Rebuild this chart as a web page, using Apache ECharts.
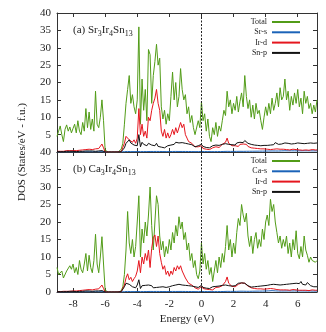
<!DOCTYPE html>
<html><head><meta charset="utf-8">
<script src="https://cdn.jsdelivr.net/npm/echarts@6/dist/echarts.min.js"></script>
<style>html,body{margin:0;padding:0;background:#fff}#c{width:326px;height:332px}</style>
</head><body><div id="c"></div>
<script>
const energy = [
-9.0,-8.9,-8.8,-8.7,-8.6,-8.5,-8.4,-8.3,-8.2,-8.1,
-8.0,-7.9,-7.8,-7.7,-7.6,-7.5,-7.4,-7.3,-7.2,-7.1,
-7.0,-6.9,-6.8,-6.7,-6.6,-6.5,-6.4,-6.3,-6.2,-6.1,
-6.0,-5.9,-5.8,-5.7,-5.6,-5.5,-5.4,-5.3,-5.2,-5.1,
-5.0,-4.9,-4.8,-4.7,-4.6,-4.5,-4.4,-4.3,-4.2,-4.1,
-4.0,-3.9,-3.8,-3.7,-3.6,-3.5,-3.4,-3.3,-3.2,-3.1,
-3.0,-2.9,-2.8,-2.7,-2.6,-2.5,-2.4,-2.3,-2.2,-2.1,
-2.0,-1.9,-1.8,-1.7,-1.6,-1.5,-1.4,-1.3,-1.2,-1.1,
-1.0,-0.9,-0.8,-0.7,-0.6,-0.5,-0.4,-0.3,-0.2,-0.1,
0.0,0.1,0.2,0.3,0.4,0.5,0.6,0.7,0.8,0.9,
1.0,1.1,1.2,1.3,1.4,1.5,1.6,1.7,1.8,1.9,
2.0,2.1,2.2,2.3,2.4,2.5,2.6,2.7,2.8,2.9,
3.0,3.1,3.2,3.3,3.4,3.5,3.6,3.7,3.8,3.9,
4.0,4.1,4.2,4.3,4.4,4.5,4.6,4.7,4.8,4.9,
5.0,5.1,5.2,5.3,5.4,5.5,5.6,5.7,5.8,5.9,
6.0,6.1,6.2,6.3,6.4,6.5,6.6,6.7,6.8,6.9,
7.0,7.1,7.2];

const xTicks = [-8,-6,-4,-2,0,2,4,6];

// ---------- (a) Sr3Ir4Sn13 ----------
const srTotal = [
4.5,6.0,7.5,5.0,3.0,6.5,7.8,6.0,7.2,5.5,
6.8,8.0,5.5,9.0,6.0,5.0,8.5,6.0,12.5,7.0,
11.5,6.5,9.5,6.0,17.5,8.0,7.0,10.0,15.0,9.0,
0.5,0,0,0,0,0,0,0,0,0.1,
0.8,2.5,8.0,14.0,18.0,22.0,14.0,16.5,13.0,11.0,
15.0,36.0,8.0,21.0,12.0,18.0,9.0,29.5,28.0,14.0,
22.0,26.0,31.0,25.0,27.0,13.0,9.5,12.0,8.0,11.0,
9.0,16.0,23.0,15.0,20.0,13.0,16.0,24.0,18.0,15.0,
16.5,11.0,13.0,8.5,10.5,7.0,5.0,4.5,9.0,7.0,
14.5,9.0,11.0,6.0,9.5,4.5,3.0,7.0,5.0,8.5,
4.5,7.5,6.0,9.0,12.0,10.5,17.5,13.0,15.0,11.0,
14.0,12.0,16.0,11.5,14.5,17.0,13.0,22.0,16.0,12.5,
15.0,10.0,13.5,9.5,14.0,11.0,12.0,9.0,6.5,10.0,
13.0,10.5,14.0,11.0,15.5,12.0,14.0,17.0,13.0,18.5,
15.0,16.0,21.0,15.0,17.5,12.0,16.0,13.5,17.0,14.0,
18.0,13.0,15.5,11.0,17.5,14.0,16.0,12.5,14.0,11.0,
13.5,11.5,15.0];

const srS = [
0.05,0.08,0.05,0.07,0.05,0.08,0.06,0.07,0.05,0.08,
0.06,0.08,0.06,0.09,0.07,0.08,0.06,0.09,0.07,0.08,
0.07,0.09,0.07,0.10,0.08,0.09,0.07,0.10,0.12,0.08,
0,0,0,0,0,0,0,0,0,0,
0.02,0.05,0.10,0.12,0.15,0.14,0.12,0.15,0.12,0.14,
0.13,0.18,0.12,0.15,0.13,0.16,0.12,0.17,0.15,0.13,
0.15,0.14,0.16,0.13,0.15,0.12,0.13,0.11,0.12,0.13,
0.12,0.14,0.15,0.13,0.16,0.14,0.15,0.17,0.15,0.14,
0.15,0.13,0.14,0.12,0.13,0.12,0.11,0.10,0.12,0.11,
0.14,0.12,0.13,0.11,0.12,0.10,0.11,0.12,0.11,0.13,
0.12,0.14,0.13,0.15,0.16,0.15,0.18,0.16,0.17,0.15,
0.17,0.16,0.18,0.17,0.19,0.20,0.18,0.22,0.20,0.19,
0.21,0.19,0.22,0.20,0.23,0.21,0.24,0.22,0.25,0.23,
0.26,0.24,0.28,0.26,0.30,0.27,0.29,0.31,0.28,0.30,
0.32,0.30,0.35,0.31,0.33,0.30,0.34,0.31,0.33,0.30,
0.34,0.31,0.33,0.30,0.35,0.32,0.34,0.31,0.33,0.30,
0.32,0.31,0.33];

const srIrD = [
0.2,0.3,0.2,0.3,0.2,0.3,0.4,0.3,0.4,0.3,
0.4,0.5,0.4,0.6,0.5,0.7,0.6,0.8,0.7,0.9,
0.8,1.0,0.7,1.1,0.9,1.3,1.0,1.5,2.3,1.2,
0,0,0,0,0,0,0,0,0,0,
0.1,0.5,2.5,4.5,5.0,3.5,4.0,2.8,3.5,2.5,
4.0,12.5,5.0,8.0,4.5,6.0,4.0,10.0,9.0,12.0,
14.0,15.5,18.0,14.0,12.0,6.0,4.5,6.5,4.0,5.5,
4.0,5.0,6.5,5.0,7.0,5.5,6.0,8.5,7.0,8.0,
5.0,4.0,3.0,3.5,2.5,2.0,1.5,1.0,1.5,1.2,
1.8,1.0,1.5,0.8,1.2,0.7,0.8,1.2,1.0,1.5,
1.0,1.3,1.6,2.2,2.0,2.8,4.0,2.5,2.0,1.8,
2.2,1.8,2.0,1.6,2.2,2.5,2.3,2.8,2.2,1.6,
1.8,1.2,1.4,1.1,1.3,1.0,1.1,0.9,0.7,0.9,
1.0,0.8,0.9,0.7,1.0,0.8,0.7,0.9,0.6,0.8,
0.7,0.8,1.0,0.7,0.8,0.6,0.7,0.8,0.6,0.7,
0.8,0.6,0.7,0.5,0.7,0.6,0.7,0.5,0.6,0.7,
0.5,0.6,0.6];

const srSnP = [
0.1,0.2,0.1,0.2,0.1,0.2,0.2,0.1,0.2,0.2,
0.2,0.2,0.1,0.2,0.2,0.3,0.2,0.2,0.3,0.2,
0.3,0.2,0.3,0.3,0.2,0.3,0.3,0.3,0.4,0.3,
0,0,0,0,0,0,0,0,0,0,
0.1,0.3,1.2,2.5,3.0,3.5,2.6,3.0,2.0,2.5,
1.8,5.0,1.5,2.8,2.2,2.6,1.8,2.5,3.0,2.0,
2.4,1.8,2.5,1.6,2.0,1.4,1.6,1.2,1.4,1.8,
1.5,2.0,2.5,2.2,2.8,2.4,2.6,2.2,2.7,2.3,
2.5,2.0,2.3,1.8,2.1,1.7,1.5,1.3,1.8,1.5,
2.2,1.6,1.9,1.3,1.7,1.2,1.4,1.8,1.5,2.0,
1.6,1.9,1.7,2.2,1.9,2.4,2.6,2.2,2.5,2.1,
2.4,2.0,2.6,2.3,2.8,3.0,2.7,3.3,2.8,2.5,
2.7,2.2,2.5,2.0,2.3,1.9,2.2,1.8,2.1,1.9,
2.2,1.9,2.3,2.0,2.4,2.1,2.7,2.3,2.2,2.0,
2.3,2.1,2.6,2.2,2.5,2.1,2.3,2.0,2.4,2.2,
2.6,2.3,2.5,2.2,2.4,2.1,2.5,2.3,2.6,2.2,
2.5,2.3,2.6];

// ---------- (b) Ca3Ir4Sn13 ----------
const caTotal = [
7.0,5.0,4.5,6.0,4.0,3.5,6.0,5.5,7.5,6.5,
8.0,5.5,7.0,5.0,9.0,6.5,5.5,8.0,11.0,6.0,
10.5,7.0,5.5,9.0,16.5,8.0,5.5,10.0,15.8,8.0,
0.5,0,0,0,0,0,0,0,0,0.1,
0.3,1.5,5.0,12.0,23.0,14.0,11.0,15.0,10.0,13.0,
20.0,27.5,10.0,18.0,14.0,20.0,16.0,22.0,30.0,19.0,
12.0,20.0,27.5,25.0,16.0,12.0,14.5,10.0,13.0,11.0,
15.0,12.0,17.0,14.0,19.0,16.0,21.5,18.0,20.0,15.0,
17.0,12.0,14.0,9.0,11.0,7.0,9.0,5.0,3.8,6.0,
14.0,8.0,11.0,6.5,9.0,5.0,7.0,3.0,6.0,9.0,
5.5,10.0,7.0,11.0,8.5,13.0,19.0,12.0,15.0,10.0,
14.0,11.0,17.0,21.0,19.0,25.0,22.0,20.0,22.5,16.0,
13.0,16.0,11.0,15.0,17.0,12.5,15.0,13.0,18.0,15.0,
20.0,22.0,19.0,26.5,23.0,25.0,20.0,17.0,14.0,16.0,
12.5,15.0,13.0,16.0,11.0,14.0,10.0,15.0,12.0,17.5,
11.0,9.5,13.0,10.0,16.0,12.0,10.5,8.5,10.0,9.0,
9.5,8.5,9.0];

const caS = [
0.05,0.07,0.05,0.08,0.06,0.07,0.05,0.08,0.06,0.07,
0.06,0.08,0.07,0.09,0.07,0.08,0.06,0.09,0.08,0.07,
0.08,0.09,0.07,0.10,0.09,0.08,0.07,0.10,0.12,0.08,
0,0,0,0,0,0,0,0,0,0,
0.02,0.05,0.10,0.13,0.16,0.14,0.12,0.14,0.12,0.15,
0.14,0.18,0.12,0.16,0.13,0.15,0.13,0.17,0.16,0.14,
0.15,0.13,0.16,0.14,0.15,0.12,0.13,0.12,0.13,0.12,
0.13,0.14,0.16,0.13,0.15,0.14,0.16,0.15,0.16,0.14,
0.15,0.13,0.14,0.12,0.13,0.11,0.12,0.10,0.11,0.12,
0.14,0.12,0.13,0.11,0.12,0.10,0.12,0.11,0.12,0.13,
0.12,0.14,0.13,0.15,0.15,0.16,0.18,0.16,0.17,0.16,
0.17,0.16,0.18,0.20,0.22,0.24,0.22,0.21,0.20,0.19,
0.20,0.19,0.22,0.21,0.24,0.22,0.25,0.23,0.26,0.24,
0.28,0.30,0.33,0.36,0.38,0.35,0.32,0.30,0.28,0.27,
0.28,0.26,0.29,0.27,0.30,0.28,0.29,0.27,0.30,0.28,
0.29,0.27,0.30,0.28,0.29,0.27,0.28,0.26,0.28,0.27,
0.26,0.27,0.26];

const caIrD = [
0.1,0.2,0.1,0.2,0.2,0.3,0.2,0.3,0.2,0.3,
0.3,0.4,0.3,0.5,0.4,0.6,0.5,0.7,0.6,0.8,
0.7,0.9,0.6,1.0,0.8,1.2,0.9,1.1,2.0,1.0,
0,0,0,0,0,0,0,0,0,0,
0.1,0.5,2.0,4.0,5.2,3.5,4.2,3.0,3.8,4.5,
6.0,9.0,5.5,10.0,8.0,11.0,9.0,12.0,7.0,12.5,
15.5,16.3,13.0,16.0,11.0,8.5,6.5,7.5,5.0,6.0,
4.5,6.0,5.0,7.0,6.0,7.5,6.5,7.5,6.0,6.5,
4.0,3.5,2.5,3.0,2.0,1.8,1.2,1.0,0.8,1.0,
1.6,1.0,1.3,0.8,1.1,0.7,0.9,0.6,1.0,1.3,
0.9,1.4,1.2,1.8,2.0,3.0,4.3,2.5,2.0,1.6,
1.8,1.5,2.0,2.2,2.4,2.6,2.3,2.5,2.0,1.7,
1.5,1.2,1.4,1.0,1.2,0.9,1.1,0.9,1.0,0.8,
1.0,0.9,1.1,1.0,1.2,0.9,0.8,0.7,0.8,0.6,
0.7,0.6,0.8,0.6,0.7,0.5,0.6,0.7,0.5,0.6,
0.7,0.5,0.6,0.5,0.6,0.5,0.6,0.4,0.5,0.6,
0.4,0.5,0.5];

const caSnP = [
0.1,0.2,0.1,0.2,0.1,0.2,0.1,0.2,0.2,0.1,
0.2,0.2,0.1,0.2,0.2,0.3,0.2,0.2,0.3,0.2,
0.3,0.2,0.2,0.3,0.3,0.2,0.3,0.3,0.4,0.3,
0,0,0,0,0,0,0,0,0,0,
0.1,0.4,1.5,2.5,3.0,2.2,2.0,1.5,1.8,1.2,
2.0,3.5,1.0,1.8,1.3,1.9,1.4,2.0,1.5,1.8,
1.2,1.6,1.3,1.8,1.4,1.1,1.5,1.0,1.3,1.1,
1.5,1.3,1.8,1.6,2.0,1.7,2.2,1.8,2.0,1.7,
1.9,1.6,1.8,1.5,1.7,1.3,1.5,1.1,1.3,1.2,
1.9,1.3,1.6,1.1,1.4,1.0,1.2,1.5,1.2,1.6,
1.3,1.7,1.5,1.9,1.6,2.0,2.2,1.8,2.1,1.7,
2.0,1.8,2.3,2.5,2.8,2.6,2.3,2.5,2.0,1.8,
1.6,1.4,1.7,1.5,1.8,1.6,1.9,1.7,2.0,1.8,
2.1,1.9,2.3,2.1,2.5,2.2,2.4,2.1,2.3,2.0,
2.4,2.1,2.5,2.2,2.6,2.3,2.7,2.4,2.8,2.5,
2.9,2.4,3.0,2.2,2.5,2.0,2.7,2.2,1.8,1.6,
1.5,1.4,1.5];

const C_TOTAL = '#529c18', C_S = '#1b63b8', C_D = '#e5161e', C_P = '#111111';
const FONT = 'Liberation Serif';
const AX = '#333';

function pairs(arr){ return energy.map((e,i)=>[e, arr[i]]); }

function xAxes(grid, withLabels){
  const base = {
    gridIndex: grid, type:'value', min:-9, max:7.2,
    axisLine:{show:true, onZero:false, lineStyle:{color:AX, width:1}},
    axisTick:{show:true, inside:true, length:4, customValues:xTicks, lineStyle:{color:AX}},
    splitLine:{show:false}
  };
  const bottom = Object.assign({}, base, {position:'bottom',
    axisLabel: withLabels ? {show:true, customValues:xTicks, margin:7, fontFamily:FONT, fontSize:11, color:'#222'} : {show:false}});
  if (withLabels) Object.assign(bottom, {name:'Energy (eV)', nameLocation:'middle', nameGap:22,
      nameTextStyle:{fontFamily:FONT, fontSize:11, color:'#222'}});
  const top = Object.assign({}, base, {position:'top', axisLabel:{show:false}});
  return [bottom, top];
}
function yAxes(grid, hideZero){
  const base = {
    gridIndex: grid, type:'value', min:0, max:40, interval:5,
    axisLine:{show:true, onZero:false, lineStyle:{color:AX, width:1}},
    axisTick:{show:true, inside:true, length:4, lineStyle:{color:AX}},
    splitLine:{show:false}
  };
  const left = Object.assign({}, base, {position:'left',
    axisLabel:{show:true, margin:6, fontFamily:FONT, fontSize:11, color:'#222',
      formatter: v => (hideZero && v === 0) ? '' : String(v)}});
  const right = Object.assign({}, base, {position:'right', axisLabel:{show:false}});
  return [left, right];
}

function lineSeries(name, arr, color, xi, yi, withMark){
  const s = {
    name, type:'line', data: pairs(arr), xAxisIndex: xi, yAxisIndex: yi,
    showSymbol:false, symbol:'none', smooth:false, animation:false,
    lineStyle:{color, width:1}, itemStyle:{color}, emphasis:{disabled:true}
  };
  if (withMark) s.markLine = {symbol:'none', silent:true, label:{show:false},
      lineStyle:{type:[2,1.5], color:'#222', width:1}, data:[{xAxis:0}], animation:false};
  return s;
}

const legendBase = {
  orient:'vertical', right:21, align:'right', icon:'rect', itemWidth:28, itemHeight:2,
  itemGap:0.3, textStyle:{fontFamily:FONT, fontSize:8, lineHeight:10, color:'#222'},
  selectedMode:false
};

// formula label built from main/sub pieces, placed with measured widths
const measureCtx = document.createElement('canvas').getContext('2d');
function formula(pieces, x0, cy){
  const out = [];
  let x = x0;
  pieces.forEach(([txt, sub]) => {
    const fs = sub ? 8 : 11;
    measureCtx.font = fs + 'px ' + FONT;
    out.push({type:'text', x: x, y: sub ? cy + 3.5 : cy, silent:true,
      style:{text: txt, fontFamily: FONT, fontSize: fs, fill:'#222', align:'left', verticalAlign:'middle'}});
    x += measureCtx.measureText(txt).width;
  });
  return out;
}
const labelA = [['(a) Sr',0],['3',1],['Ir',0],['4',1],['Sn',0],['13',1]];
const labelB = [['(b) Ca',0],['3',1],['Ir',0],['4',1],['Sn',0],['13',1]];

const chart = echarts.init(document.getElementById('c'), null, {renderer:'canvas'});
chart.setOption({
  animation:false,
  backgroundColor:'#fff',
  grid:[
    {left:57, top:13, width:260, height:139},
    {left:57, top:152, width:260, height:140}
  ],
  xAxis:[...xAxes(0,false), ...xAxes(1,true)],
  yAxis:[...yAxes(0,true), ...yAxes(1,false)],
  legend:[
    Object.assign({}, legendBase, {top:12, data:['Total','Sr-s','Ir-d','Sn-p']}),
    Object.assign({}, legendBase, {top:151, data:['Total','Ca-s','Ir-d','Sn-p']})
  ],
  series:[
    lineSeries('Total', srTotal, C_TOTAL, 0, 0, true),
    lineSeries('Sr-s', srS, C_S, 0, 0, false),
    lineSeries('Ir-d', srIrD, C_D, 0, 0, false),
    lineSeries('Sn-p', srSnP, C_P, 0, 0, false),
    lineSeries('Total', caTotal, C_TOTAL, 2, 2, true),
    lineSeries('Ca-s', caS, C_S, 2, 2, false),
    lineSeries('Ir-d', caIrD, C_D, 2, 2, false),
    lineSeries('Sn-p', caSnP, C_P, 2, 2, false)
  ],
  graphic:[
    ...formula(labelA, 73, 30),
    ...formula(labelB, 73, 169.5),
    {type:'text', x:22, y:152, rotation:Math.PI/2, silent:true, style:{
      text:'DOS (States/eV - f.u.)', fontFamily:FONT, fontSize:11, fill:'#222',
      align:'center', verticalAlign:'middle'}}
  ]
});
</script>
</body></html>
